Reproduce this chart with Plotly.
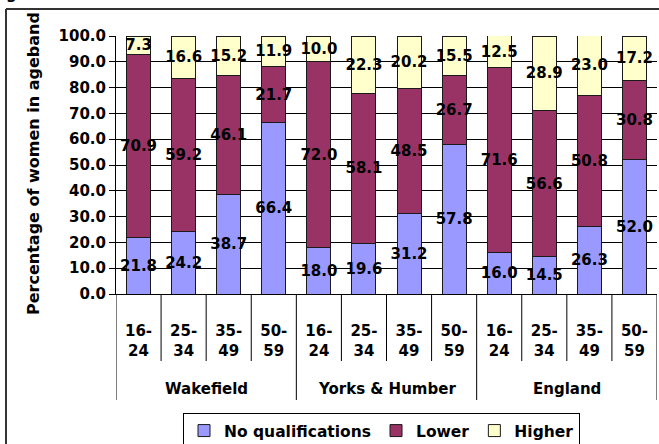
import plotly.graph_objects as go

# ---- data ----
areas = ["Wakefield", "Yorks & Humber", "England"]
age_bands = ["16-24", "25-34", "35-49", "50-59"]
no_qual = [21.8, 24.2, 38.7, 66.4, 18.0, 19.6, 31.2, 57.8, 16.0, 14.5, 26.3, 52.0]
lower = [70.9, 59.2, 46.1, 21.7, 72.0, 58.1, 48.5, 26.7, 71.6, 56.6, 50.8, 30.8]
higher = [7.3, 16.6, 15.2, 11.9, 10.0, 22.3, 20.2, 15.5, 12.5, 28.9, 23.0, 17.2]
y_ticks = [0, 10, 20, 30, 40, 50, 60, 70, 80, 90, 100]

series_names = ["No qualifications", "Lower", "Higher"]
series_colors = ["#9999FF", "#993366", "#FFFFCC"]

FONT = "DejaVu Sans"
W, H = 659, 444
ML, MR, MT, MB = 116, 2, 36, 150
PW, PH = W - ML - MR, H - MT - MB


def py(px):
    """pixel row -> paper y"""
    return (H - MB - px) / PH


def pxx(px):
    """pixel column -> paper x"""
    return (px - ML) / PW


n = len(areas) * len(age_bands)
xpos = list(range(n))
tick_text = [a.replace("-", "-<br>") for _ in areas for a in age_bands]

fig = go.Figure()
for name, vals, col in zip(series_names, [no_qual, lower, higher], series_colors):
    fig.add_trace(go.Bar(
        x=xpos, y=vals, name=name,
        marker=dict(color=col, line=dict(color="#1a1a1a", width=1)),
        text=[f"{v:.1f}" for v in vals],
        textposition="inside", insidetextanchor="middle",
        textangle=0, constraintext="none",
        textfont=dict(family=FONT, size=15, color="black", weight="bold"),
        hoverinfo="skip",
    ))

shapes = []
# category separators below the axis
for i in range(n + 1):
    is_group = (i % len(age_bands) == 0)
    shapes.append(dict(type="line", xref="x", yref="paper",
                       x0=i - 0.5, x1=i - 0.5, y0=0,
                       y1=py(400) if is_group else py(361),
                       line=dict(color="#000000", width=1)))
# outer chart border (partially visible)
shapes.append(dict(type="line", xref="paper", yref="paper",
                   x0=pxx(6), x1=pxx(6), y0=py(9), y1=py(460),
                   line=dict(color="#333333", width=2)))
shapes.append(dict(type="line", xref="paper", yref="paper",
                   x0=pxx(6), x1=pxx(680), y0=py(9), y1=py(9),
                   line=dict(color="#333333", width=2)))

annotations = []
for g, area in enumerate(areas):
    center = g * len(age_bands) + (len(age_bands) - 1) / 2
    annotations.append(dict(text=area, xref="x", yref="paper", x=center, y=py(389),
                            xanchor="center", yanchor="middle", showarrow=False,
                            font=dict(family=FONT, size=15, color="black", weight="bold")))
annotations.append(dict(text="Percentage of women in ageband", textangle=-90,
                        xref="paper", yref="paper", x=pxx(33), y=py(164),
                        xanchor="center", yanchor="middle", showarrow=False,
                        font=dict(family=FONT, size=16, color="black", weight="bold")))
annotations.append(dict(text="g", xref="paper", yref="paper", x=pxx(4), y=py(-6),
                        xanchor="left", yanchor="middle", showarrow=False,
                        font=dict(family=FONT, size=15, color="black", weight="bold")))

fig.update_layout(
    width=W, height=H,
    margin=dict(l=ML, r=MR, t=MT, b=MB, pad=0, autoexpand=False),
    barmode="stack", bargap=0.468,
    paper_bgcolor="white", plot_bgcolor="white",
    showlegend=True,
    legend=dict(orientation="h", x=pxx(183), y=py(413), xanchor="left", yanchor="top",
                bordercolor="#000000", borderwidth=1, bgcolor="white",
                font=dict(family=FONT, size=15.5, color="black", weight="bold"),
                traceorder="normal"),
    xaxis=dict(range=[-0.5, n - 0.5], tickmode="array", tickvals=xpos, ticktext=tick_text,
               showgrid=False, zeroline=False, showline=True, linecolor="black", linewidth=1,
               ticks="", ticklabelstandoff=23,
               tickfont=dict(family=FONT, size=15, color="black", weight="bold"),
               fixedrange=True),
    yaxis=dict(range=[0, 100], tickmode="array", tickvals=y_ticks,
               ticktext=[f"{v:.1f}" for v in y_ticks],
               showgrid=True, gridcolor="#000000", gridwidth=1,
               zeroline=False, showline=True, linecolor="black", linewidth=1,
               ticks="outside", ticklen=6, tickcolor="black",
               tickfont=dict(family=FONT, size=15, color="black", weight="bold"),
               fixedrange=True),
    shapes=shapes, annotations=annotations,
)

fig.write_html("out.html")
